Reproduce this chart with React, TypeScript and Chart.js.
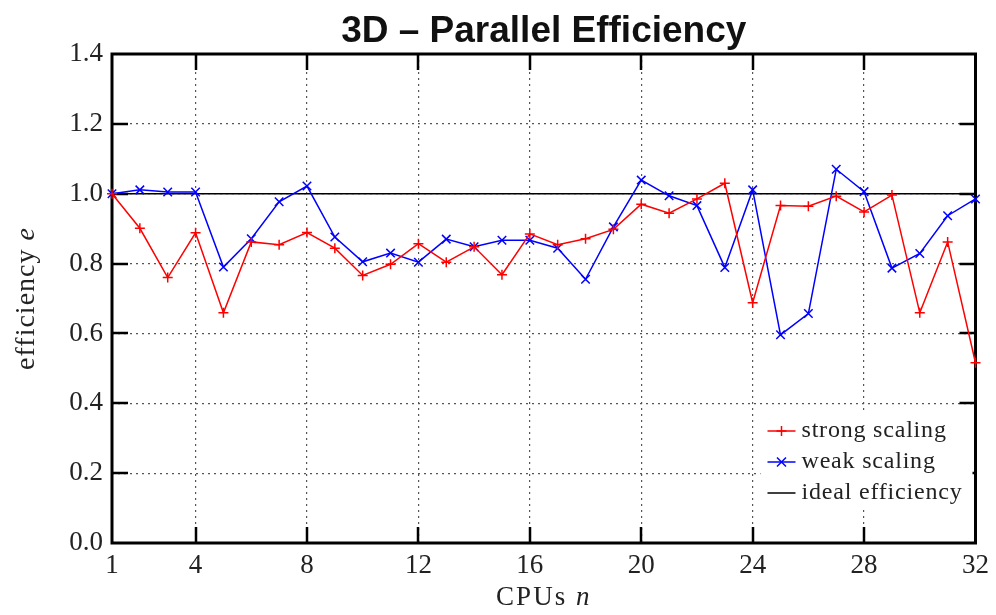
import React, { useEffect, useRef } from "react";
import { Chart, registerables } from "chart.js";

Chart.register(...registerables);

const cpus = [1, 2, 3, 4, 5, 6, 7, 8, 9, 10, 11, 12, 13, 14, 15, 16, 17, 18, 19, 20, 21, 22, 23, 24, 25, 26, 27, 28, 29, 30, 31, 32];
const strongScaling = [1.0, 0.901, 0.76, 0.888, 0.659, 0.862, 0.854, 0.889, 0.844, 0.766, 0.798, 0.857, 0.804, 0.848, 0.768, 0.885, 0.854, 0.871, 0.898, 0.97, 0.944, 0.985, 1.03, 0.688, 0.966, 0.964, 0.993, 0.948, 0.996, 0.659, 0.862, 0.516];
const weakScaling = [1.0, 1.011, 1.005, 1.005, 0.79, 0.871, 0.977, 1.022, 0.876, 0.805, 0.83, 0.804, 0.87, 0.848, 0.867, 0.867, 0.844, 0.755, 0.905, 1.039, 0.994, 0.966, 0.789, 1.011, 0.596, 0.657, 1.07, 1.006, 0.787, 0.829, 0.937, 0.985];
const idealX = [1, 32];
const idealY = [1.0, 1.0];
const xTickValues = [1, 4, 8, 12, 16, 20, 24, 28, 32];
const yTickValues = [0.0, 0.2, 0.4, 0.6, 0.8, 1.0, 1.2, 1.4];
const legendLabels = ["strong scaling", "weak scaling", "ideal efficiency"];
const titleText = "3D \u2013 Parallel Efficiency";

const SERIF = "'Liberation Serif', 'Times New Roman', serif";
const TEXT = "#222";

const framePlugin = {
  id: "frame",
  beforeDatasetsDraw(chart: any) {
    const { ctx, chartArea: a, scales } = chart;
    ctx.save();
    ctx.strokeStyle = "#000";
    ctx.lineWidth = 2.5;
    for (const v of xTickValues) {
      if (v === 1 || v === 32) continue;
      const x = Math.round(scales.x.getPixelForValue(v));
      ctx.beginPath();
      ctx.moveTo(x, a.bottom);
      ctx.lineTo(x, a.bottom - 16);
      ctx.moveTo(x, a.top);
      ctx.lineTo(x, a.top + 16);
      ctx.stroke();
    }
    for (const v of yTickValues) {
      if (v === 0 || v === 1.4) continue;
      const y = Math.round(scales.y.getPixelForValue(v));
      ctx.beginPath();
      ctx.moveTo(a.left, y);
      ctx.lineTo(a.left + 16, y);
      ctx.moveTo(a.right, y);
      ctx.lineTo(a.right - 16, y);
      ctx.stroke();
    }
    ctx.lineWidth = 3;
    ctx.strokeRect(a.left, a.top, a.right - a.left, a.bottom - a.top);
    ctx.restore();
  },
  afterDatasetsDraw(chart: any) {
    const { ctx, chartArea: a } = chart;
    ctx.save();
    const bx = a.right - 215;
    const by = a.bottom - 130;
    ctx.fillStyle = "#fff";
    ctx.fillRect(bx, by, 212, 95);
    const rows = [a.bottom - 112, a.bottom - 81, a.bottom - 50];
    const colors = ["#ff0000", "#0000ff", "#000000"];
    const lx0 = a.right - 208;
    const lx1 = a.right - 180;
    const mx = (lx0 + lx1) / 2;
    rows.forEach((y, i) => {
      ctx.strokeStyle = colors[i];
      ctx.lineWidth = 1.5;
      ctx.beginPath();
      ctx.moveTo(lx0, y);
      ctx.lineTo(lx1, y);
      ctx.stroke();
      if (i === 0) {
        ctx.beginPath();
        ctx.moveTo(mx - 5, y);
        ctx.lineTo(mx + 5, y);
        ctx.moveTo(mx, y - 5);
        ctx.lineTo(mx, y + 5);
        ctx.stroke();
      } else if (i === 1) {
        ctx.beginPath();
        ctx.moveTo(mx - 4.5, y - 4.5);
        ctx.lineTo(mx + 4.5, y + 4.5);
        ctx.moveTo(mx - 4.5, y + 4.5);
        ctx.lineTo(mx + 4.5, y - 4.5);
        ctx.stroke();
      }
      ctx.fillStyle = TEXT;
      ctx.font = `24px ${SERIF}`;
      (ctx as any).letterSpacing = "0.8px";
      ctx.textAlign = "left";
      ctx.textBaseline = "middle";
      ctx.fillText(legendLabels[i], a.right - 174, y);
    });
    ctx.restore();
  },
  afterDraw(chart: any) {
    const { ctx, chartArea: a } = chart;
    const cx = (a.left + a.right) / 2;
    const cy = (a.top + a.bottom) / 2;
    ctx.save();
    ctx.fillStyle = "#111";
    ctx.font = `bold 37px 'Liberation Sans Narrow', 'Arial Narrow', 'Liberation Sans', sans-serif`;
    ctx.textAlign = "center";
    ctx.textBaseline = "alphabetic";
    ctx.fillText(titleText, cx, 42);

    ctx.fillStyle = TEXT;
    (ctx as any).letterSpacing = "2px";
    const f1 = `27px ${SERIF}`;
    const f2 = `italic 27px ${SERIF}`;
    ctx.font = f1;
    const w1 = ctx.measureText("CPUs ").width;
    ctx.font = f2;
    const w2 = ctx.measureText("n").width;
    let sx = cx - (w1 + w2) / 2;
    ctx.textAlign = "left";
    ctx.font = f1;
    ctx.fillText("CPUs ", sx, 605);
    ctx.font = f2;
    ctx.fillText("n", sx + w1, 605);

    (ctx as any).letterSpacing = "1px";
    ctx.translate(34, cy);
    ctx.rotate(-Math.PI / 2);
    const g1 = `28px ${SERIF}`;
    const g2 = `italic 28px ${SERIF}`;
    ctx.font = g1;
    const v1 = ctx.measureText("efficiency ").width;
    ctx.font = g2;
    const v2 = ctx.measureText("e").width;
    sx = -(v1 + v2) / 2;
    ctx.font = g1;
    ctx.fillText("efficiency ", sx, 0);
    ctx.font = g2;
    ctx.fillText("e", sx + v1, 0);
    ctx.restore();
  },
};

export default function App() {
  const ref = useRef<HTMLCanvasElement | null>(null);
  useEffect(() => {
    if (!ref.current) return;
    const chart = new Chart(ref.current, {
      type: "line",
      data: {
        datasets: [
          {
            label: legendLabels[0],
            data: cpus.map((c, i) => ({ x: c, y: strongScaling[i] })),
            borderColor: "#ff0000",
            backgroundColor: "#ff0000",
            borderWidth: 1.5,
            pointStyle: "cross",
            pointRadius: 5,
            pointBorderWidth: 1.5,
            fill: false,
            tension: 0,
            clip: false as any,
          },
          {
            label: legendLabels[1],
            data: cpus.map((c, i) => ({ x: c, y: weakScaling[i] })),
            borderColor: "#0000ff",
            backgroundColor: "#0000ff",
            borderWidth: 1.5,
            pointStyle: "crossRot",
            pointRadius: 6,
            pointBorderWidth: 1.5,
            fill: false,
            tension: 0,
            clip: false as any,
          },
          {
            label: legendLabels[2],
            data: idealX.map((c, i) => ({ x: c, y: idealY[i] })),
            borderColor: "#000000",
            borderWidth: 1.5,
            pointRadius: 0,
            fill: false,
            clip: false as any,
          },
        ],
      },
      options: {
        responsive: true,
        maintainAspectRatio: false,
        animation: false,
        layout: { padding: { top: 54, right: 19, left: 0, bottom: 0 } },
        plugins: {
          legend: { display: false },
          title: { display: false },
          tooltip: { enabled: false },
        },
        scales: {
          x: {
            type: "linear",
            min: 1,
            max: 32,
            afterBuildTicks: (scale: any) => {
              scale.ticks = xTickValues.map((v) => ({ value: v }));
            },
            afterFit: (scale: any) => {
              scale.height = 72;
            },
            grid: {
              color: (c: any) => (c.tick && (c.tick.value === 1 || c.tick.value === 32) ? "rgba(0,0,0,0)" : "#555"),
              lineWidth: 1.2,
              drawTicks: false,
            },
            border: { display: false, dash: [2, 4] },
            ticks: {
              padding: 7,
              color: TEXT,
              font: { family: SERIF, size: 27 },
              callback: (v: any) => String(v),
              maxRotation: 0,
              autoSkip: false,
            },
          },
          y: {
            type: "linear",
            min: 0,
            max: 1.4,
            afterBuildTicks: (scale: any) => {
              scale.ticks = yTickValues.map((v) => ({ value: v }));
            },
            afterFit: (scale: any) => {
              scale.width = 112;
            },
            grid: {
              color: (c: any) => (c.tick && (c.tick.value === 0 || Math.abs(c.tick.value - 1.4) < 1e-6) ? "rgba(0,0,0,0)" : "#555"),
              lineWidth: 1.2,
              drawTicks: false,
            },
            border: { display: false, dash: [2, 4] },
            ticks: {
              padding: 9,
              color: TEXT,
              font: { family: SERIF, size: 27 },
              callback: (v: any) => Number(v).toFixed(1),
            },
          },
        },
      },
      plugins: [framePlugin],
    });
    return () => chart.destroy();
  }, []);
  return (
    <div style={{ position: "fixed", left: 0, top: 0, width: 996, height: 615, background: "#fff" }}>
      <canvas ref={ref} />
    </div>
  );
}
